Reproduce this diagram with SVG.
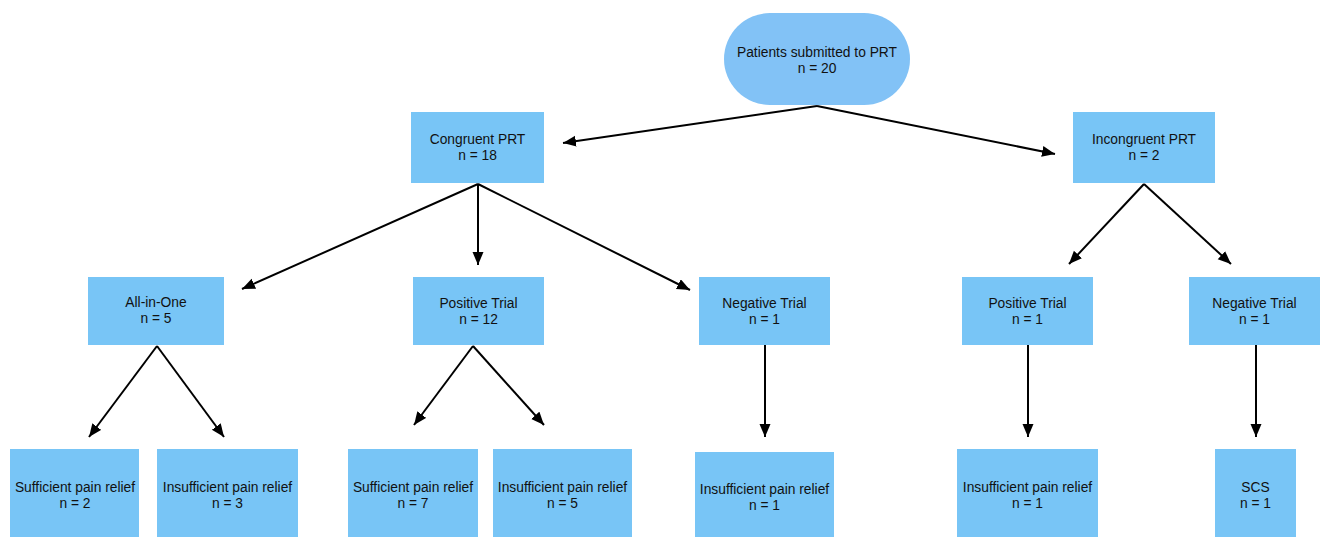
<svg xmlns="http://www.w3.org/2000/svg" width="1320" height="537" viewBox="0 0 1320 537">
<defs>
<marker id="ah" markerUnits="userSpaceOnUse" markerWidth="16" markerHeight="14" refX="13" refY="5.5" orient="auto">
<path d="M0,0 L13,5.5 L0,11 z" fill="#000"/>
</marker>
<style>
.box{fill:#78C5F6;}
.pill{fill:#82C2F6;}
text{font-family:"Liberation Sans",Arial,sans-serif;font-size:13.8px;fill:#111;text-anchor:middle;}
.c{stroke:#000;stroke-width:2;fill:none;marker-end:url(#ah);}
</style>
</defs>
<rect width="1320" height="537" fill="#fff"/>
<g id="connectors">
<line class="c" x1="817" y1="106" x2="563" y2="143"/>
<line class="c" x1="817" y1="106" x2="1055" y2="154"/>
<line class="c" x1="478" y1="184" x2="242" y2="289"/>
<line class="c" x1="478" y1="184" x2="478" y2="265"/>
<line class="c" x1="478" y1="184" x2="690" y2="290"/>
<line class="c" x1="1144" y1="184" x2="1069" y2="264"/>
<line class="c" x1="1144" y1="184" x2="1231" y2="264"/>
<line class="c" x1="157" y1="346" x2="89" y2="437"/>
<line class="c" x1="157" y1="346" x2="224" y2="437"/>
<line class="c" x1="473" y1="346" x2="414" y2="425"/>
<line class="c" x1="473" y1="346" x2="544" y2="425"/>
<line class="c" x1="765" y1="345" x2="765" y2="437"/>
<line class="c" x1="1028" y1="345" x2="1028" y2="437"/>
<line class="c" x1="1256" y1="345" x2="1256" y2="437"/>
</g>
<g id="n-top">
<rect class="pill" x="724" y="13" width="186" height="92" rx="46" ry="46"/>
<text x="817" y="57">Patients submitted to PRT</text>
<text x="817" y="73">n = 20</text>
</g>
<g id="n-congruent">
<rect class="box" x="411" y="112" width="133" height="71"/>
<text x="477.5" y="144">Congruent PRT</text>
<text x="477.5" y="160">n = 18</text>
</g>
<g id="n-incongruent">
<rect class="box" x="1073" y="112" width="142" height="71"/>
<text x="1144" y="144">Incongruent PRT</text>
<text x="1144" y="160">n = 2</text>
</g>
<g id="n-allinone">
<rect class="box" x="88" y="277" width="136" height="68"/>
<text x="156" y="307">All-in-One</text>
<text x="156" y="323">n = 5</text>
</g>
<g id="n-postrial">
<rect class="box" x="413" y="277" width="131" height="68"/>
<text x="478.5" y="308">Positive Trial</text>
<text x="478.5" y="324">n = 12</text>
</g>
<g id="n-negtrial">
<rect class="box" x="699" y="277" width="131" height="68"/>
<text x="764.5" y="308">Negative Trial</text>
<text x="764.5" y="324">n = 1</text>
</g>
<g id="n-postrial2">
<rect class="box" x="962" y="277" width="131" height="68"/>
<text x="1027.5" y="308">Positive Trial</text>
<text x="1027.5" y="324">n = 1</text>
</g>
<g id="n-negtrial2">
<rect class="box" x="1189" y="277" width="131" height="68"/>
<text x="1254.5" y="308">Negative Trial</text>
<text x="1254.5" y="324">n = 1</text>
</g>
<g id="n-suff1">
<rect class="box" x="10" y="449" width="129" height="95"/>
<text x="75" y="492">Sufficient pain relief</text>
<text x="75" y="508">n = 2</text>
</g>
<g id="n-insuff1">
<rect class="box" x="157" y="449" width="141" height="95"/>
<text x="227.5" y="492">Insufficient pain relief</text>
<text x="227.5" y="508">n = 3</text>
</g>
<g id="n-suff2">
<rect class="box" x="348" y="449" width="130" height="95"/>
<text x="413" y="492">Sufficient pain relief</text>
<text x="413" y="508">n = 7</text>
</g>
<g id="n-insuff2">
<rect class="box" x="493" y="449" width="139" height="95"/>
<text x="562.5" y="492">Insufficient pain relief</text>
<text x="562.5" y="508">n = 5</text>
</g>
<g id="n-insuff3">
<rect class="box" x="695" y="452" width="139" height="95"/>
<text x="764.5" y="494">Insufficient pain relief</text>
<text x="764.5" y="510">n = 1</text>
</g>
<g id="n-insuff4">
<rect class="box" x="957" y="449" width="141" height="95"/>
<text x="1027.5" y="492">Insufficient pain relief</text>
<text x="1027.5" y="508">n = 1</text>
</g>
<g id="n-scs">
<rect class="box" x="1215" y="449" width="81" height="95"/>
<text x="1255.5" y="492">SCS</text>
<text x="1255.5" y="508">n = 1</text>
</g>
</svg>
